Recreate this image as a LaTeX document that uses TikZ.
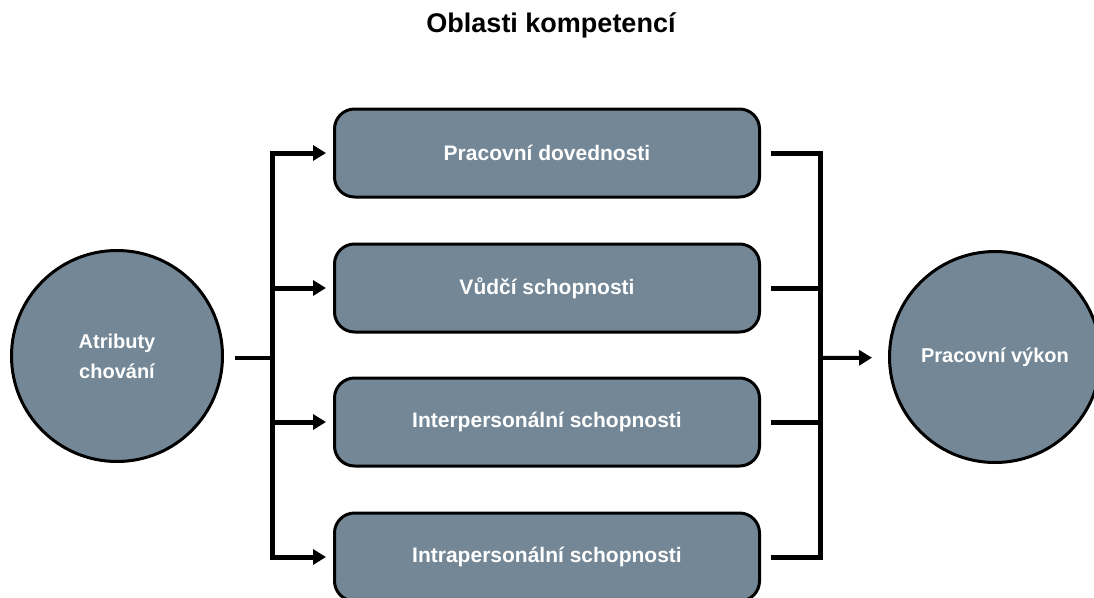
\documentclass[tikz,border=0pt]{standalone}
\usepackage{fontspec}
\setmainfont{Liberation Sans}
\usetikzlibrary{arrows.meta}
\definecolor{slate}{RGB}{115,135,150}
\tikzset{
  area/.style={draw=black,line width=3pt,fill=slate,rounded corners=20pt,
    minimum width=425pt,minimum height=88pt,inner sep=0pt,text=white,
    font=\fontsize{21}{24}\selectfont\bfseries},
  ball/.style={circle,draw=black,line width=3pt,fill=slate,minimum size=211pt,
    inner sep=0pt,text=white,align=center,font=\fontsize{20}{30}\selectfont\bfseries},
  trunk/.style={line width=5pt,line cap=rect},
  feed/.style={line width=5pt,-{Triangle[length=13pt,width=15pt]}},
}
\begin{document}
\begin{tikzpicture}[x=1pt,y=-1pt]
  \useasboundingbox (0,0) rectangle (1094,597);
  \node[font=\fontsize{27}{30}\selectfont\bfseries,anchor=base] (title) at (551,32) {Oblasti kompetencí};
  \node[ball] (attr) at (117,356) {Atributy\\chování};
  \node[ball] (perf) at (995,357) {Pracovní výkon};
  \node[area] (b1) at (547,153) {Pracovní dovednosti};
  \node[area] (b2) at (547,288) {Vůdčí schopnosti};
  \node[area] (b3) at (547,422) {Interpersonální schopnosti};
  \node[area] (b4) at (547,557) {Intrapersonální schopnosti};
  \coordinate (split) at (272,358);
  \coordinate (join) at (820,358);
  % left side
  \draw[line width=4pt,shorten <=11pt] (attr.east |- split) -- (split);
  \draw[trunk] (split |- b1) -- (split |- b4);
  \foreach \b in {b1,b2,b3,b4}
    \draw[feed,shorten >=7pt] (split |- \b) -- (\b);
  % right side
  \foreach \b in {b1,b2,b3,b4}
    \draw[trunk,shorten <=12pt] (\b) -- (join |- \b);
  \draw[trunk] (join |- b1) -- (join |- b4);
  \draw[line width=4pt,-{Triangle[length=13pt,width=15pt]},shorten >=16pt] (join) -- (perf);
\end{tikzpicture}
\end{document}
